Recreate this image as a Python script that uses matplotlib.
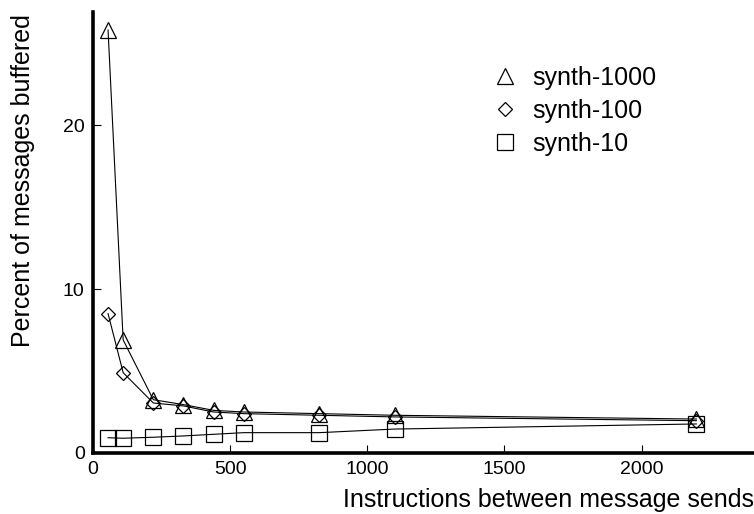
import matplotlib
matplotlib.use("Agg")
import matplotlib.pyplot as plt
from matplotlib.lines import Line2D

plt.rcParams['font.family'] = ['Liberation Sans', 'DejaVu Sans']

x = [55, 110, 220, 330, 440, 550, 825, 1100, 2200]
synth_1000 = [25.8, 6.9, 3.25, 2.95, 2.6, 2.5, 2.4, 2.3, 2.07]
synth_100 = [8.5, 4.9, 3.05, 2.87, 2.5, 2.4, 2.3, 2.2, 1.97]
synth_10 = [0.93, 0.9, 0.96, 1.04, 1.14, 1.24, 1.24, 1.46, 1.77]
labels = ["synth-1000", "synth-100", "synth-10"]
xticks = [0, 500, 1000, 1500, 2000]
yticks = [0, 10, 20]

fig = plt.figure(figsize=(7.54, 5.14), dpi=100)
ax = fig.add_axes([0.1233, 0.1187, 0.8767, 0.858])

series = [(synth_1000, '^', 11.5), (synth_100, 'D', 7.6), (synth_10, 's', 11.5)]
handles = []
for (ys, m, ms), lab in zip(series, labels):
    ax.plot(x, ys, color='black', lw=0.8, marker=m, ms=ms, mfc='none',
            mec='black', mew=0.9)
    handles.append(Line2D([], [], ls='none', marker=m, ms=ms,
                          mfc='none', mec='black', mew=0.9, label=lab))

ax.set_xlim(0, 2410)
ax.set_ylim(0, 26.9)
ax.set_xticks(xticks)
ax.set_yticks(yticks)
ax.tick_params(direction='in', length=6, width=0.8, labelsize=14, pad=6)
for s in ['top', 'right']:
    ax.spines[s].set_visible(False)
for s in ['left', 'bottom']:
    ax.spines[s].set_linewidth(2.6)

fig.text(23 / 754, 1 - 181 / 514, "Percent of messages buffered", fontsize=18,
         rotation=90, ha='center', va='center')
fig.text(1.0, 1 - 500 / 514, "Instructions between message sends", fontsize=18,
         ha='right', va='center')

leg = ax.legend(handles=handles, loc='upper left', bbox_to_anchor=(0.5895, 0.90),
                frameon=False, fontsize=18, handlelength=1.0, handletextpad=0.6,
                labelspacing=0.36, borderaxespad=0)

fig.savefig("out.png", dpi=100)
